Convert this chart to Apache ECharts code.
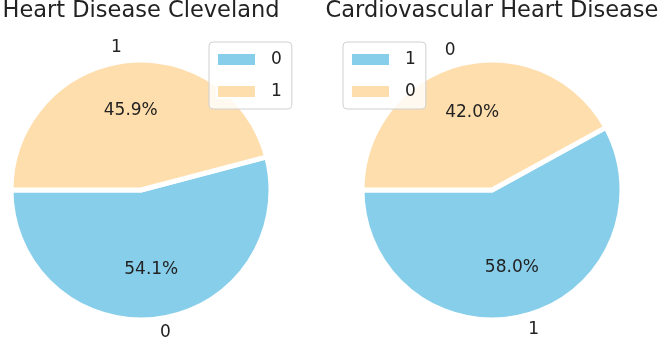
<!DOCTYPE html>
<html>
<head>
<meta charset="utf-8">
<script src="https://cdn.jsdelivr.net/npm/echarts@6/dist/echarts.min.js"></script>
<style>
  html, body { margin: 0; padding: 0; background: #fff; }
  #chart { width: 661px; height: 339px; }
</style>
</head>
<body>
<div id="chart"></div>
<script>
// left pie: Heart Disease Cleveland
const leftTitle = "Heart Disease Cleveland";
const leftNames = ["0", "1"];
const leftValues = [54.1, 45.9];

// right pie: Cardiovascular Heart Disease
const rightTitle = "Cardiovascular Heart Disease";
const rightNames = ["1", "0"];
const rightValues = [58.0, 42.0];

const colors = ["#87CEEB", "#FFDEAD"];
const font = "DejaVu Sans";
const R = 128;

function labelStyle() {
  return { show: true, position: "inside", color: "#222", fontFamily: font, fontSize: 17 };
}

// overlay pie that only carries labels, at radius r * frac
function labelPie(center, names, values, frac, formatter, sideAlign) {
  let total = values.reduce((a, b) => a + b, 0);
  let acc = 0;
  return {
    type: "pie",
    center: center,
    radius: [0, R * frac * 2],
    startAngle: 180,
    clockwise: false,
    animation: false,
    silent: true,
    label: Object.assign(labelStyle(), { formatter: formatter }),
    data: names.map((n, i) => {
      let mid = 180 + (acc + values[i] / 2) / total * 360;
      acc += values[i];
      let item = { name: n, value: values[i], itemStyle: { color: "transparent" } };
      if (sideAlign) {
        // text aligned away from centre, like matplotlib outer labels
        let right = Math.cos(mid * Math.PI / 180) > 0;
        item.label = { padding: right ? [0, 0, 0, 12] : [2, 12, 0, 0] };
      }
      return item;
    }),
  };
}

function pieSeries(center, names, values) {
  return [
    {
      type: "pie",
      center: center,
      radius: [0, R + 2],
      startAngle: 180,
      clockwise: false,
      animation: false,
      silent: true,
      itemStyle: { borderColor: "#fff", borderWidth: 5 },
      label: { show: false },
      data: names.map((n, i) => ({ name: n, value: values[i], itemStyle: { color: colors[i] } })),
    },
    labelPie(center, names, values, 0.6, (p) => p.value.toFixed(1) + "%", false),
    labelPie(center, names, values, 1.1, "{b}", true),
  ];
}

function legendFor(left, names) {
  return {
    left: left,
    top: 42,
    orient: "vertical",
    icon: "rect",
    itemWidth: 39,
    itemHeight: 13,
    itemGap: 15,
    padding: [9, 10, 9, 7],
    borderColor: "#d0d0d0",
    borderWidth: 1,
    borderRadius: 4,
    backgroundColor: "rgba(255,255,255,0.8)",
    selectedMode: false,
    textStyle: { fontFamily: font, fontSize: 17, color: "#222", padding: [0, 0, 0, 10] },
    data: names.map((n, i) => ({ name: n, itemStyle: { color: colors[i] } })),
  };
}

const myChart = echarts.init(document.getElementById("chart"));
const option = {
  animation: false,
  title: [
    { text: leftTitle, left: 141, textAlign: "center", top: 0, padding: 0,
      textStyle: { fontFamily: font, fontSize: 22.5, fontWeight: "normal", color: "#222" } },
    { text: rightTitle, left: 492, textAlign: "center", top: 0, padding: 0,
      textStyle: { fontFamily: font, fontSize: 22.5, fontWeight: "normal", color: "#222" } },
  ],
  legend: [legendFor(209, leftNames), legendFor(343, rightNames)],
  series: [
    ...pieSeries([141, 190], leftNames, leftValues),
    ...pieSeries([492, 190], rightNames, rightValues),
  ],
};
myChart.setOption(option);
</script>
</body>
</html>
